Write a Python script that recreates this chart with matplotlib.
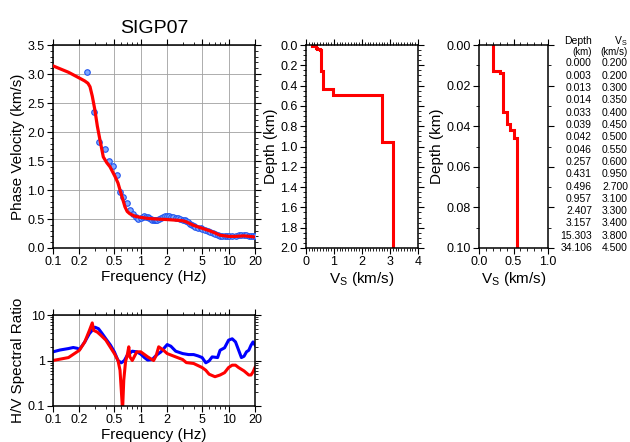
import numpy as np
import matplotlib
matplotlib.use("Agg")
import matplotlib.pyplot as plt
from matplotlib.ticker import FixedLocator, MultipleLocator, NullFormatter

plt.rcParams['font.family'] = ['Liberation Sans', 'DejaVu Sans']
plt.rcParams['mathtext.fontset'] = 'custom'
plt.rcParams['mathtext.rm'] = 'Liberation Sans'
plt.rcParams['mathtext.it'] = 'Liberation Sans'

station = "SIGP07"

# observed dispersion points (Hz, km/s)
obs_freq = [0.242, 0.29, 0.337, 0.39, 0.438, 0.486, 0.53, 0.58, 0.63, 0.69, 0.75, 0.81,
            0.88, 0.93, 1.0, 1.05, 1.1, 1.15, 1.2, 1.25, 1.3, 1.35, 1.4, 1.45, 1.5, 1.55,
            1.6, 1.7, 1.8, 1.9, 2.0, 2.1, 2.2, 2.35, 2.5, 2.65, 2.8, 3.0, 3.15, 3.3, 3.45,
            3.6, 3.8, 4.0, 4.2, 4.5, 4.8, 5.0, 5.4, 5.8, 6.2, 6.6, 7.0, 7.5, 8.0, 8.5, 9.0,
            9.5, 10.0, 11.0, 12.0, 13.0, 14.0, 15.0, 16.0, 17.0, 18.0, 19.0, 20.0]
obs_vel = [3.04, 2.34, 1.82, 1.70, 1.50, 1.42, 1.26, 0.96, 0.875, 0.77, 0.65, 0.59,
           0.54, 0.50, 0.51, 0.53, 0.55, 0.54, 0.53, 0.51, 0.50, 0.49, 0.48, 0.48, 0.48, 0.49,
           0.50, 0.52, 0.54, 0.55, 0.55, 0.55, 0.54, 0.53, 0.52, 0.51, 0.50, 0.49, 0.48, 0.47, 0.44,
           0.42, 0.40, 0.38, 0.37, 0.35, 0.34, 0.33, 0.31, 0.29, 0.28, 0.26, 0.25, 0.23, 0.21, 0.20, 0.20,
           0.20, 0.20, 0.21, 0.21, 0.22, 0.23, 0.22, 0.22, 0.21, 0.21, 0.20, 0.20]

# theoretical dispersion curve
fit_freq = [0.1, 0.15, 0.2, 0.23, 0.25, 0.264, 0.28, 0.3, 0.32, 0.343, 0.374, 0.41, 0.446,
            0.51, 0.55, 0.58, 0.62, 0.66, 0.7, 0.75, 0.85, 0.98, 1.2, 1.5, 2.0, 2.5, 3.0, 3.3,
            4.0, 5.0, 6.0, 7.0, 8.0, 9.0, 10.0, 12.0, 15.0, 20.0]
fit_vel = [3.14, 3.03, 2.93, 2.88, 2.84, 2.78, 2.62, 2.38, 2.10, 1.86, 1.57, 1.47, 1.40,
           1.23, 1.12, 1.00, 0.85, 0.71, 0.63, 0.59, 0.55, 0.53, 0.51, 0.50, 0.49, 0.48, 0.47, 0.45,
           0.39, 0.34, 0.30, 0.26, 0.22, 0.21, 0.20, 0.20, 0.21, 0.19]

# observed H/V
hv_obs_freq = [0.1, 0.12, 0.15, 0.17, 0.19, 0.2, 0.23, 0.26, 0.3, 0.33, 0.36, 0.4, 0.45, 0.5,
               0.55, 0.6, 0.65, 0.7, 0.8, 0.9, 1.0, 1.1, 1.2, 1.35, 1.5, 1.7, 1.9, 2.0, 2.2,
               2.5, 3.0, 3.5, 4.0, 4.5, 5.0, 5.5, 6.0, 6.5, 7.5, 8.0, 9.0, 10.0, 11.0, 12.0,
               13.0, 14.0, 15.0, 16.0, 17.0, 18.0, 19.0, 20.0]
hv_obs = [1.55, 1.7, 1.83, 1.93, 1.85, 1.74, 2.56, 3.9, 5.4, 5.0, 4.0, 3.0, 2.2, 1.55,
          1.0, 0.89, 1.0, 1.3, 1.6, 1.55, 1.38, 1.16, 1.02, 1.05, 1.3, 1.55, 2.0, 2.24, 2.06,
          1.6, 1.42, 1.35, 1.35, 1.26, 1.16, 0.89, 0.98, 1.2, 1.16, 1.68, 1.9, 2.8, 3.0, 2.56,
          1.7, 1.16, 1.24, 1.55, 1.68, 2.16, 2.56, 2.2]

# theoretical H/V
hv_fit_freq = [0.1, 0.15, 0.2, 0.23, 0.26, 0.28, 0.29, 0.32, 0.35, 0.4, 0.5, 0.55, 0.58, 0.6,
               0.62, 0.64, 0.67, 0.7, 0.73, 0.75, 0.8, 0.9, 1.0, 1.2, 1.4, 1.5, 1.6, 1.8, 2.0,
               2.5, 3.0, 3.3, 4.0, 5.0, 5.5, 6.0, 7.0, 8.0, 9.0, 10.0, 11.0, 12.0, 13.0, 15.0,
               17.0, 18.0, 19.0, 20.0]
hv_fit = [1.0, 1.16, 1.68, 2.56, 4.6, 6.7, 4.6, 4.2, 3.6, 2.8, 1.42, 1.0, 0.61, 0.22,
          0.08, 0.37, 0.93, 1.3, 2.0, 1.2, 1.0, 1.55, 1.55, 1.2, 1.0, 1.3, 2.0, 1.7, 1.42,
          1.2, 1.05, 0.9, 0.86, 0.7, 0.61, 0.5, 0.44, 0.48, 0.54, 0.7, 0.79, 0.79, 0.7, 0.59,
          0.48, 0.48, 0.56, 0.7]

# velocity model
layer_top = [0.000, 0.003, 0.013, 0.014, 0.033, 0.039, 0.042, 0.046, 0.257, 0.431,
             0.496, 0.957, 2.407, 3.157, 15.303, 34.106]
layer_vs = [0.200, 0.200, 0.300, 0.350, 0.400, 0.450, 0.500, 0.550, 0.600, 0.950,
            2.700, 3.100, 3.300, 3.400, 3.800, 4.500]

freq_ticks = [0.1, 0.2, 0.5, 1, 2, 5, 10, 20]
freq_labels = ["0.1", "0.2", "0.5", "1", "2", "5", "10", "20"]

red = "#ff0000"
blue = "#0000ff"
lw_frame = 1.1
tick_fs = 9
label_fs = 11


def style_axes(ax):
    for s in ax.spines.values():
        s.set_linewidth(lw_frame)
    ax.tick_params(which='both', direction='out', top=True, right=True,
                   labeltop=False, labelright=False, labelsize=tick_fs, pad=2)
    ax.tick_params(which='major', length=4, width=0.8)
    ax.tick_params(which='minor', length=2, width=0.6)


def freq_axis(ax):
    ax.set_xscale('log')
    ax.set_xlim(0.1, 20)
    ax.xaxis.set_major_locator(FixedLocator(freq_ticks))
    ax.set_xticklabels(freq_labels)
    minors = [m * 10.0 ** e for e in (-1, 0, 1) for m in range(1, 10)]
    minors = [v for v in minors if 0.1 <= v <= 20 and round(v, 6) not in freq_ticks]
    ax.xaxis.set_minor_locator(FixedLocator(minors))
    ax.xaxis.set_minor_formatter(NullFormatter())
    ax.set_xlabel("Frequency (Hz)", fontsize=label_fs, labelpad=1)


fig = plt.figure(figsize=(6.3, 4.42), dpi=100)

# dispersion curve
ax1 = fig.add_axes([53 / 630, 194 / 442, 202 / 630, 203 / 442])
ax1.grid(True, which='major', color='#a0a0a0', linewidth=0.6)
ax1.plot(obs_freq, obs_vel, 'o', ms=4, mfc='#7fa8ff', mec='#2255ee', mew=0.8, zorder=3)
ax1.plot(fit_freq, fit_vel, color=red, lw=2.3, zorder=4)
freq_axis(ax1)
ax1.set_ylim(0, 3.5)
ax1.yaxis.set_major_locator(MultipleLocator(0.5))
ax1.yaxis.set_minor_locator(MultipleLocator(0.1))
ax1.yaxis.set_major_formatter(matplotlib.ticker.FormatStrFormatter('%.1f'))
ax1.set_ylabel("Phase Velocity (km/s)", fontsize=label_fs, labelpad=2)
ax1.set_title(station, fontsize=14, pad=9)
style_axes(ax1)

# Vs profiles, stepped
step_vs = np.repeat(layer_vs, 2)
step_dep = np.concatenate([[layer_top[0]], np.repeat(layer_top[1:], 2), [40.0]])

ax2 = fig.add_axes([306 / 630, 194 / 442, 112 / 630, 203 / 442])
ax2.plot(step_vs, step_dep, color=red, lw=2.2, solid_joinstyle='miter')
ax2.set_xlim(0, 4)
ax2.set_ylim(2.0, 0.0)
ax2.xaxis.set_major_locator(MultipleLocator(1))
ax2.xaxis.set_minor_locator(MultipleLocator(0.1))
ax2.yaxis.set_major_locator(MultipleLocator(0.2))
ax2.yaxis.set_minor_locator(MultipleLocator(0.05))
ax2.yaxis.set_major_formatter(matplotlib.ticker.FormatStrFormatter('%.1f'))
ax2.set_xlabel("V$_\\mathregular{S}$ (km/s)", fontsize=label_fs, labelpad=1)
ax2.set_ylabel("Depth (km)", fontsize=label_fs, labelpad=2)
style_axes(ax2)

ax3 = fig.add_axes([479 / 630, 194 / 442, 69 / 630, 203 / 442])
ax3.plot(step_vs, step_dep, color=red, lw=2.2, solid_joinstyle='miter')
ax3.set_xlim(0, 1)
ax3.set_ylim(0.1, 0.0)
ax3.xaxis.set_major_locator(MultipleLocator(0.5))
ax3.xaxis.set_minor_locator(MultipleLocator(0.1))
ax3.yaxis.set_major_locator(MultipleLocator(0.02))
ax3.yaxis.set_minor_locator(MultipleLocator(0.01))
ax3.xaxis.set_major_formatter(matplotlib.ticker.FormatStrFormatter('%.1f'))
ax3.yaxis.set_major_formatter(matplotlib.ticker.FormatStrFormatter('%.2f'))
ax3.set_xlabel("V$_\\mathregular{S}$ (km/s)", fontsize=label_fs, labelpad=1)
ax3.set_ylabel("Depth (km)", fontsize=label_fs, labelpad=2)
style_axes(ax3)

# model table
tx1, tx2 = 592 / 630, 628 / 630
fig.text(tx1, 1 - 41 / 442, "Depth", ha='right', va='center', fontsize=7.5)
fig.text(tx1, 1 - 52 / 442, "(km)", ha='right', va='center', fontsize=7)
fig.text(tx2 - 0.012, 1 - 41 / 442, "V$_\\mathregular{S}$", ha='center', va='center', fontsize=7.5)
fig.text(tx2, 1 - 52 / 442, "(km/s)", ha='right', va='center', fontsize=7)
for i, (d, v) in enumerate(zip(layer_top, layer_vs)):
    y = 1 - (63.5 + i * 12.3) / 442
    fig.text(tx1, y, "%.3f" % d, ha='right', va='center', fontsize=7.5)
    fig.text(tx2, y, "%.3f" % v, ha='right', va='center', fontsize=7.5)

# H/V spectral ratio
ax4 = fig.add_axes([53 / 630, 36 / 442, 202 / 630, 91 / 442])
ax4.grid(True, which='major', color='#a0a0a0', linewidth=0.6)
ax4.plot(hv_obs_freq, hv_obs, color=blue, lw=2.2)
ax4.plot(hv_fit_freq, hv_fit, color=red, lw=2.2)
freq_axis(ax4)
ax4.set_yscale('log')
ax4.set_ylim(0.1, 10)
ax4.yaxis.set_major_locator(FixedLocator([0.1, 1, 10]))
ax4.set_yticklabels(["0.1", "1", "10"])
ax4.yaxis.set_minor_formatter(NullFormatter())
ax4.set_ylabel("H/V Spectral Ratio", fontsize=label_fs, labelpad=2)
style_axes(ax4)

fig.savefig("out.png", dpi=100)
